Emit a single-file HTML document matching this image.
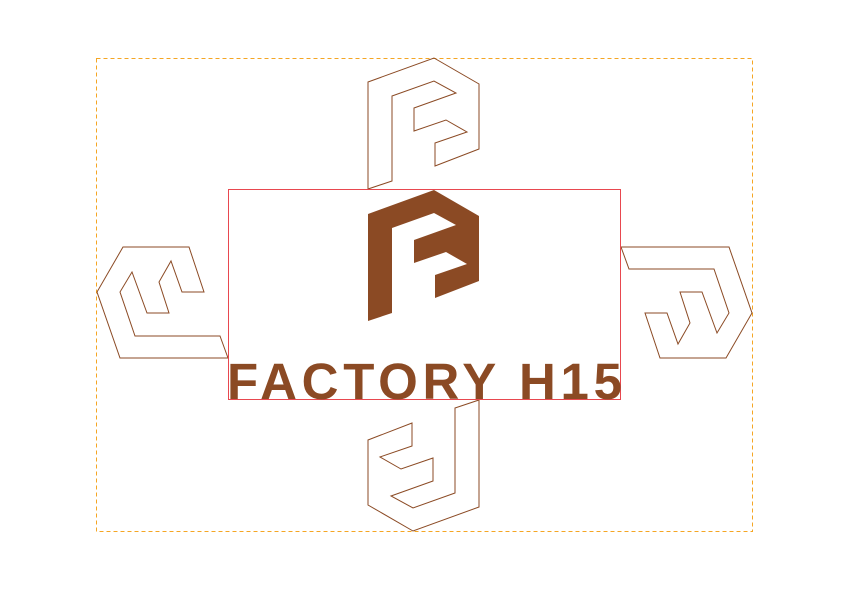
<!DOCTYPE html>
<html><head><style>html,body{margin:0;padding:0;background:#fff;}svg{display:block}</style></head>
<body>
<svg width="842" height="596" viewBox="0 0 842 596" xmlns="http://www.w3.org/2000/svg">
<rect x="96.5" y="58.5" width="656" height="473" fill="none" stroke="#f5a623" stroke-width="1" stroke-dasharray="4,3"/>
<g fill="none" stroke="#8b4a24" stroke-width="1">
<polygon points="368,82 434,58 479,84 479,149 435,166 435,143 467,132 446,120 414,131 414,108 456,93 434,81 392,96 392,181 368,189"/>
<polygon points="368,82 434,58 479,84 479,149 435,166 435,143 467,132 446,120 414,131 414,108 456,93 434,81 392,96 392,181 368,189" transform="rotate(180 423.5 294.5)"/>
<polygon points="123,247 189,247 204,292 182,292 171,261 159,282 169,313 147,313 132,272 120,292 135,336 220,336 228,358 120,358 97,292"/>
<polygon points="123,247 189,247 204,292 182,292 171,261 159,282 169,313 147,313 132,272 120,292 135,336 220,336 228,358 120,358 97,292" transform="rotate(180 424.5 302.5)"/>
</g>
<polygon fill="#8b4a24" points="368,214 434,190 479,216 479,281 435,298 435,275 467,264 446,252 414,263 414,240 456,225 434,213 392,228 392,313 368,321"/>
<rect x="228.5" y="189.5" width="392" height="210" fill="none" stroke="#e8484f" stroke-width="1"/>
<text x="227" y="399" font-family="Liberation Sans, sans-serif" font-weight="bold" font-size="51" fill="#8b4a24" textLength="395" lengthAdjust="spacing">FACTORY H15</text>
</svg>
</body></html>
